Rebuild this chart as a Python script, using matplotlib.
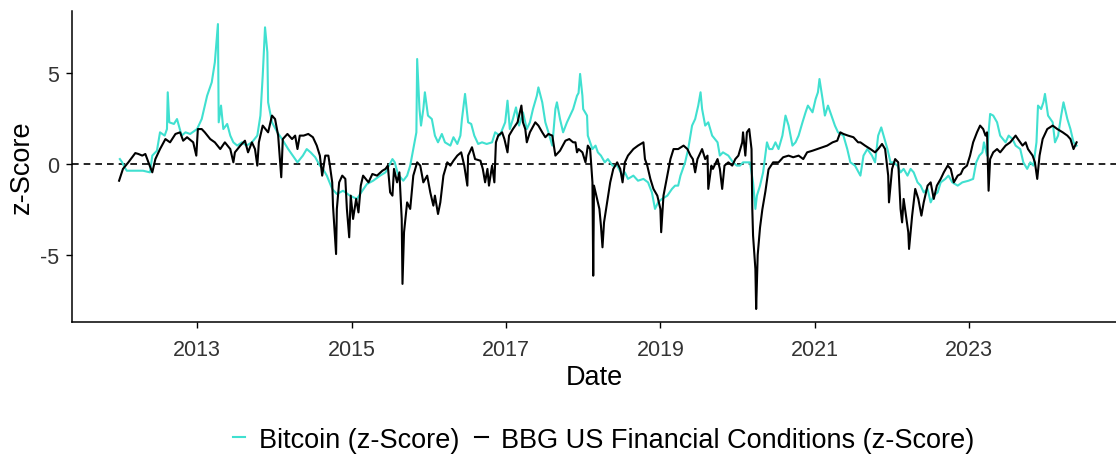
import numpy as np
import matplotlib
matplotlib.use("Agg")
import matplotlib.pyplot as plt
from matplotlib.lines import Line2D

# DADOS (anos decimais e z-score)

btc_t = [2012.00, 2012.03, 2012.06, 2012.09, 2012.20, 2012.30, 2012.39, 2012.42, 2012.48, 2012.52,
         2012.58, 2012.61, 2012.62, 2012.64, 2012.70, 2012.74, 2012.80, 2012.85, 2012.91, 2013.00,
         2013.06, 2013.13, 2013.19, 2013.23, 2013.27, 2013.28, 2013.31, 2013.34, 2013.39, 2013.43,
         2013.47, 2013.52, 2013.58, 2013.64, 2013.71, 2013.78, 2013.82, 2013.85, 2013.88, 2013.91,
         2013.92, 2013.97, 2014.04, 2014.10, 2014.18, 2014.27, 2014.30, 2014.37, 2014.42, 2014.47,
         2014.53, 2014.59, 2014.63, 2014.68, 2014.75, 2014.81, 2014.89, 2014.98, 2015.07, 2015.14,
         2015.20, 2015.28, 2015.37, 2015.44, 2015.53, 2015.56, 2015.60, 2015.67, 2015.72, 2015.76,
         2015.80, 2015.84, 2015.85, 2015.88, 2015.90, 2015.93, 2015.95, 2015.99, 2016.04, 2016.08,
         2016.12, 2016.17, 2016.21, 2016.28, 2016.32, 2016.37, 2016.41, 2016.43, 2016.47, 2016.51,
         2016.55, 2016.59, 2016.64, 2016.69, 2016.75, 2016.82, 2016.86, 2016.92, 2016.99, 2017.02,
         2017.05, 2017.09, 2017.13, 2017.17, 2017.22, 2017.27, 2017.31, 2017.35, 2017.40, 2017.42,
         2017.47, 2017.51, 2017.55, 2017.60, 2017.64, 2017.66, 2017.70, 2017.74, 2017.79, 2017.83,
         2017.87, 2017.92, 2017.94, 2017.96, 2017.99, 2018.00, 2018.05, 2018.06, 2018.12, 2018.16,
         2018.19, 2018.23, 2018.28, 2018.32, 2018.38, 2018.44, 2018.51, 2018.54, 2018.58, 2018.65,
         2018.71, 2018.78, 2018.84, 2018.89, 2018.93, 2018.97, 2019.02, 2019.09, 2019.15, 2019.19,
         2019.23, 2019.26, 2019.32, 2019.36, 2019.41, 2019.45, 2019.49, 2019.52, 2019.54, 2019.58,
         2019.62, 2019.67, 2019.74, 2019.77, 2019.81, 2019.88, 2019.94, 2019.99, 2020.03, 2020.07,
         2020.16, 2020.20, 2020.23, 2020.25, 2020.29, 2020.33, 2020.38, 2020.41, 2020.45, 2020.49,
         2020.53, 2020.58, 2020.62, 2020.66, 2020.71, 2020.75, 2020.79, 2020.84, 2020.88, 2020.91,
         2020.97, 2021.01, 2021.04, 2021.06, 2021.10, 2021.13, 2021.17, 2021.23, 2021.26, 2021.30,
         2021.37, 2021.42, 2021.46, 2021.52, 2021.59, 2021.63, 2021.68, 2021.74, 2021.78, 2021.82,
         2021.86, 2021.89, 2021.94, 2021.98, 2022.02, 2022.07, 2022.11, 2022.15, 2022.20, 2022.24,
         2022.28, 2022.33, 2022.37, 2022.41, 2022.46, 2022.50, 2022.54, 2022.59, 2022.63, 2022.69,
         2022.73, 2022.78, 2022.85, 2022.91, 2022.99, 2023.05, 2023.09, 2023.13, 2023.17, 2023.19,
         2023.23, 2023.25, 2023.27, 2023.31, 2023.36, 2023.40, 2023.47, 2023.51, 2023.56, 2023.60,
         2023.66, 2023.70, 2023.75, 2023.79, 2023.83, 2023.87, 2023.89, 2023.93, 2023.96, 2023.98,
         2024.02, 2024.08, 2024.11, 2024.15, 2024.19, 2024.22, 2024.27, 2024.31, 2024.35, 2024.39]
btc_z = [0.27, 0.09, -0.18, -0.37, -0.37, -0.37, -0.46, 0.46, 0.73, 1.74,
         1.56, 1.92, 3.94, 2.29, 2.20, 2.47, 1.56, 1.74, 1.65, 1.92,
         2.47, 3.75, 4.49, 5.59, 7.69, 2.29, 3.21, 1.92, 2.20, 1.56,
         1.19, 1.01, 1.19, 1.01, 1.19, 1.56, 2.66, 4.85, 7.51, 6.14,
         3.39, 2.29, 1.74, 1.37, 0.82, 0.27, 0.09, 0.46, 0.82, 0.64,
         0.37, -0.09, -0.27, -0.64, -1.37, -1.65, -1.47, -1.74, -1.92, -1.47,
         -1.10, -0.92, -0.64, -0.46, 0.27, 0.09, -0.55, -0.92, -0.64, -0.09,
         0.82, 1.74, 5.77, 3.02, 2.11, 3.02, 3.94, 2.66, 2.47, 1.56,
         1.19, 1.65, 1.19, 1.01, 1.47, 1.10, 1.56, 2.47, 3.85, 2.29,
         2.20, 1.56, 1.10, 1.19, 1.10, 1.19, 1.74, 1.56, 2.29, 3.48,
         1.92, 2.47, 3.11, 2.11, 2.84, 1.92, 2.29, 3.02, 3.75, 4.21,
         3.39, 2.29, 1.74, 1.01, 3.02, 3.39, 2.47, 1.74, 2.29, 2.66,
         3.02, 3.75, 3.90, 4.95, 3.75, 3.02, 2.66, 1.56, 0.82, 1.01,
         0.64, 0.46, 0.09, 0.27, -0.09, -0.09, -0.64, -0.46, -0.82, -0.64,
         -0.92, -0.82, -1.01, -1.56, -2.47, -2.11, -1.92, -1.74, -1.37, -1.19,
         -1.19, -0.64, 0.09, 0.82, 2.11, 2.47, 3.21, 3.94, 3.02, 2.11,
         2.29, 1.56, 1.19, 0.46, 0.64, 0.46, 0.09, -0.09, -0.09, 0.09,
         0.09, -1.01, -2.47, -1.74, -1.19, -0.46, 1.19, 0.82, 0.82, 1.19,
         0.82, 1.56, 2.66, 2.11, 1.01, 1.19, 1.56, 2.29, 2.84, 3.21,
         2.84, 3.57, 3.94, 4.67, 3.57, 2.66, 3.21, 2.47, 2.11, 1.74,
         1.56, 0.82, 0.09, -0.09, -0.64, 0.46, 0.82, 0.46, 0.09, 1.56,
         2.01, 1.56, 0.82, 0.09, 0.09, -0.09, -0.46, -0.27, -0.64, -0.27,
         -0.46, -1.01, -1.19, -1.56, -1.37, -2.11, -1.74, -1.56, -1.01, -0.82,
         -0.64, -1.01, -1.19, -1.01, -0.92, -0.82, 0.09, 0.46, 0.64, 1.19,
         0.46, 1.74, 2.75, 2.66, 2.29, 1.56, 1.19, 1.56, 1.37, 1.01,
         0.82, 0.09, -0.27, 0.09, -0.09, 1.19, 3.21, 3.02, 3.39, 3.85,
         2.66, 2.29, 1.19, 1.56, 2.66, 3.39, 2.47, 1.92, 1.19, 1.01]

fci_t = [2011.99, 2012.04, 2012.11, 2012.20, 2012.24, 2012.29, 2012.33, 2012.37, 2012.42, 2012.46,
         2012.52, 2012.59, 2012.65, 2012.72, 2012.78, 2012.82, 2012.87, 2012.95, 2012.99, 2013.01,
         2013.06, 2013.10, 2013.17, 2013.23, 2013.30, 2013.36, 2013.43, 2013.47, 2013.49, 2013.56,
         2013.62, 2013.66, 2013.71, 2013.75, 2013.78, 2013.80, 2013.85, 2013.92, 2013.97, 2014.01,
         2014.05, 2014.09, 2014.11, 2014.17, 2014.23, 2014.27, 2014.30, 2014.33, 2014.38, 2014.44,
         2014.50, 2014.55, 2014.59, 2014.62, 2014.66, 2014.70, 2014.72, 2014.75, 2014.76, 2014.80,
         2014.81, 2014.84, 2014.88, 2014.92, 2014.94, 2014.97, 2014.99, 2015.02, 2015.06, 2015.09,
         2015.12, 2015.15, 2015.22, 2015.27, 2015.33, 2015.40, 2015.44, 2015.47, 2015.50, 2015.53,
         2015.55, 2015.59, 2015.62, 2015.65, 2015.66, 2015.68, 2015.72, 2015.76, 2015.80, 2015.85,
         2015.89, 2015.93, 2015.98, 2016.02, 2016.06, 2016.08, 2016.12, 2016.15, 2016.19, 2016.24,
         2016.28, 2016.32, 2016.37, 2016.42, 2016.46, 2016.50, 2016.51, 2016.56, 2016.60, 2016.67,
         2016.70, 2016.73, 2016.76, 2016.78, 2016.82, 2016.85, 2016.87, 2016.90, 2016.95, 2016.98,
         2017.02, 2017.04, 2017.09, 2017.15, 2017.20, 2017.22, 2017.25, 2017.27, 2017.31, 2017.38,
         2017.42, 2017.47, 2017.51, 2017.55, 2017.60, 2017.64, 2017.70, 2017.77, 2017.82, 2017.87,
         2017.90, 2017.92, 2017.94, 2017.99, 2018.03, 2018.06, 2018.09, 2018.12, 2018.13, 2018.14,
         2018.18, 2018.21, 2018.23, 2018.25, 2018.27, 2018.31, 2018.35, 2018.39, 2018.44, 2018.48,
         2018.51, 2018.54, 2018.58, 2018.65, 2018.71, 2018.78, 2018.80, 2018.83, 2018.87, 2018.91,
         2018.96, 2019.00, 2019.01, 2019.04, 2019.09, 2019.13, 2019.17, 2019.23, 2019.30, 2019.35,
         2019.39, 2019.42, 2019.45, 2019.48, 2019.54, 2019.58, 2019.61, 2019.62, 2019.66, 2019.68,
         2019.74, 2019.77, 2019.80, 2019.83, 2019.88, 2019.93, 2019.97, 2020.01, 2020.06, 2020.07,
         2020.10, 2020.12, 2020.15, 2020.18, 2020.19, 2020.20, 2020.23, 2020.24, 2020.26, 2020.29,
         2020.32, 2020.36, 2020.40, 2020.46, 2020.53, 2020.59, 2020.66, 2020.72, 2020.79, 2020.85,
         2020.90, 2020.97, 2021.03, 2021.10, 2021.16, 2021.23, 2021.29, 2021.33, 2021.37, 2021.43,
         2021.50, 2021.56, 2021.59, 2021.65, 2021.72, 2021.78, 2021.82, 2021.87, 2021.91, 2021.95,
         2021.96, 2022.00, 2022.04, 2022.08, 2022.11, 2022.13, 2022.15, 2022.18, 2022.21, 2022.22,
         2022.26, 2022.30, 2022.34, 2022.38, 2022.41, 2022.46, 2022.50, 2022.54, 2022.58, 2022.63,
         2022.67, 2022.72, 2022.76, 2022.80, 2022.85, 2022.89, 2022.92, 2022.97, 2023.01, 2023.05,
         2023.10, 2023.14, 2023.18, 2023.21, 2023.23, 2023.25, 2023.27, 2023.31, 2023.36, 2023.40,
         2023.47, 2023.53, 2023.60, 2023.63, 2023.69, 2023.73, 2023.76, 2023.82, 2023.85, 2023.88,
         2023.91, 2023.95, 2024.01, 2024.08, 2024.14, 2024.21, 2024.27, 2024.31, 2024.35, 2024.39]
fci_z = [-0.92, -0.27, 0.09, 0.60, 0.55, 0.46, 0.55, 0.09, -0.46, 0.27,
         0.82, 1.37, 1.19, 1.65, 1.74, 1.28, 1.47, 1.19, 0.46, 1.92,
         1.92, 1.74, 1.37, 1.19, 0.82, 1.19, 0.82, 0.09, 0.64, 1.01,
         1.28, 0.64, 1.19, 0.82, -0.09, 1.19, 2.11, 1.74, 2.66, 2.47,
         1.56, -0.73, 1.37, 1.65, 1.37, 1.56, 0.82, 1.56, 1.56, 1.65,
         1.47, 1.01, 0.46, -0.64, 0.46, 0.46, -0.09, -1.01, -2.29, -4.95,
         -2.47, -1.01, -0.64, -0.82, -2.47, -4.03, -1.74, -3.02, -1.92, -2.66,
         -1.19, -0.64, -1.01, -0.55, -0.64, -0.37, -0.27, -0.09, -1.56, -1.74,
         -0.27, -1.01, -0.46, -3.02, -6.59, -3.75, -2.11, -2.47, -0.64, 0.09,
         -0.09, -1.01, -0.64, -1.56, -2.29, -1.74, -2.75, -2.11, -0.64, 0.09,
         -0.09, 0.18, 0.46, 0.64, -0.09, -1.19, 0.46, 0.92, 0.27, 0.18,
         -0.27, -1.01, -0.27, -1.19, -0.09, -1.01, 1.19, 1.56, 1.74, 1.37,
         0.64, 1.56, 1.92, 2.29, 3.21, 2.29, 1.92, 1.19, 1.74, 2.29,
         2.11, 1.74, 1.47, 1.65, 1.56, 0.46, 0.73, 1.28, 1.37, 1.19,
         1.19, 0.64, 0.82, 0.64, 0.09, 1.01, 0.82, -1.01, -6.14, -1.19,
         -1.92, -2.47, -3.39, -4.58, -3.21, -2.11, -1.01, -0.27, 0.09, -0.27,
         -1.01, 0.09, 0.46, 0.82, 1.01, 1.19, 0.27, -0.09, -0.82, -1.37,
         -1.74, -2.47, -3.75, -1.74, -0.64, 0.27, 0.82, 0.82, 1.01, 0.82,
         0.46, 0.27, -0.46, 0.27, 0.82, 0.27, 0.46, -1.37, -0.09, -0.27,
         0.27, -0.27, -1.37, -0.09, 0.09, -0.09, 0.27, 0.46, 1.19, 1.74,
         0.46, 1.74, 1.92, 0.82, -2.47, -3.94, -5.77, -7.97, -5.00, -3.50,
         -2.50, -1.50, -0.30, 0.09, 0.09, 0.37, 0.46, 0.37, 0.46, 0.27,
         0.64, 0.73, 0.82, 0.92, 1.01, 1.19, 1.28, 1.74, 1.65, 1.56,
         1.47, 1.19, 1.19, 1.01, 0.82, 0.64, 0.82, 1.10, 0.82, -0.64,
         -2.11, -0.27, 0.27, 0.09, -2.47, -3.21, -1.92, -2.84, -3.75, -4.67,
         -2.84, -1.37, -1.92, -2.84, -2.11, -1.19, -1.01, -1.92, -1.19, -0.82,
         -0.46, -0.09, -0.27, -1.01, -0.64, -0.55, -0.27, -0.09, 0.46, 1.19,
         1.74, 2.11, 1.92, 1.56, 1.74, -1.47, 0.27, 0.64, 0.82, 0.64,
         1.01, 1.19, 1.56, 1.37, 1.01, 1.19, 0.82, 0.46, 0.09, -0.82,
         0.46, 1.37, 1.92, 2.11, 1.92, 1.74, 1.56, 1.37, 0.82, 1.19]

year_ticks = [2013, 2015, 2017, 2019, 2021, 2023]
z_ticks = [-5, 0, 5]

BTC_COLOR = "#40E0D0"

plt.rcParams["font.family"] = ["Liberation Sans", "DejaVu Sans"]

fig = plt.figure(figsize=(11.16, 4.60), dpi=100)
ax = fig.add_axes([0.0645, 0.298, 0.9355, 0.676])

ax.axhline(0, color="black", lw=1.2, ls=(0, (4, 3)), zorder=1)
ax.plot(btc_t, btc_z, color=BTC_COLOR, lw=1.5, zorder=2)
ax.plot(fci_t, fci_z, color="black", lw=1.5, zorder=3)

ax.set_xlim(2011.38, 2024.90)
ax.set_ylim(-8.68, 8.41)
ax.set_xticks(year_ticks)
ax.set_xticklabels([str(y) for y in year_ticks])
ax.set_yticks(z_ticks)
ax.set_yticklabels(["-5", "0", "5"])

for s in ["top", "right"]:
    ax.spines[s].set_visible(False)
for s in ["left", "bottom"]:
    ax.spines[s].set_linewidth(1.1)

ax.tick_params(axis="both", length=4, width=1.0, labelsize=15.5, colors="black",
               labelcolor="#333333")
ax.tick_params(axis="x", pad=8)
ax.tick_params(axis="y", pad=5)
ax.set_xlabel("Date", fontsize=19.5, labelpad=3)
ax.set_ylabel("z-Score", fontsize=19.5, labelpad=4)

handles = [Line2D([], [], color=BTC_COLOR, lw=1.5),
           Line2D([], [], color="black", lw=1.5)]
fig.legend(handles, ["Bitcoin (z-Score)", "BBG US Financial Conditions (z-Score)"],
           loc="center", bbox_to_anchor=(0.541, 0.042), ncol=2, frameon=False,
           fontsize=19.5, handlelength=0.45, handletextpad=0.5, columnspacing=0.6)

fig.savefig("out.png", dpi=100)
